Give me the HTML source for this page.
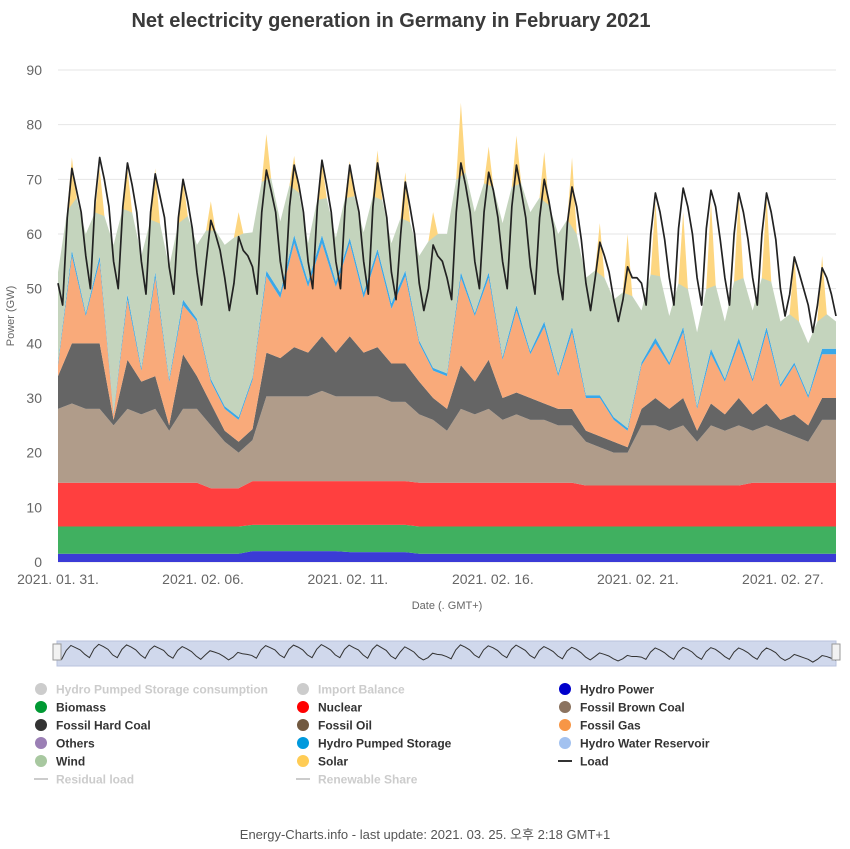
<!DOCTYPE html>
<html><head><meta charset="utf-8">
<style>
body{margin:0;background:#fff;font-family:"Liberation Sans","Noto Sans CJK KR",sans-serif;}
svg{display:block}
</style></head>
<body>
<svg id="chart" width="850" height="849" viewBox="0 0 850 849" xmlns="http://www.w3.org/2000/svg">
<text x="391" y="27" text-anchor="middle" font-size="20" font-weight="bold" fill="#3a3a3a">Net electricity generation in Germany in February 2021</text>
<g id="grid"></g>
<g id="areas"></g>
<g id="lines"></g>
<g id="axes"></g>
<text transform="translate(14,316) rotate(-90)" text-anchor="middle" font-size="11" fill="#666">Power (GW)</text>
<text x="447" y="609" text-anchor="middle" font-size="11" fill="#666">Date (. GMT+)</text>
<g id="nav"></g>
<g id="legend"></g>
<text x="425" y="839" text-anchor="middle" font-size="13" fill="#555">Energy-Charts.info - last update: 2021. 03. 25. 오후 2:18 GMT+1</text>
</svg>
<script>
// half-day samples (00h, 12h), day 0 = Feb 1 00:00
const hydro=[1.5,1.5,1.5,1.5,1.5,1.5,1.5,1.5,1.5,1.5,1.5,1.5,1.5,1.5,2,2,2,2,2,2,2,1.8,1.8,1.8,1.8,1.8,1.5,1.5,1.5,1.5,1.5,1.5,1.5,1.5,1.5,1.5,1.5,1.5,1.5,1.5,1.5,1.5,1.5,1.5,1.5,1.5,1.5,1.5,1.5,1.5,1.5,1.5,1.5,1.5,1.5,1.5,1.5];
const biomass=[5,5,5,5,5,5,5,5,5,5,5,5,5,5,4.8,4.8,4.8,4.8,4.8,4.8,4.8,5,5,5,5,5,5,5,5,5,5,5,5,5,5,5,5,5,5,5,5,5,5,5,5,5,5,5,5,5,5,5,5,5,5,5,5];
const nuclear=[8,8,8,8,8,8,8,8,8,8,8,7,7,7,8,8,8,8,8,8,8,8,8,8,8,8,8,8,8,8,8,8,8,8,8,8,8,8,7.5,7.5,7.5,7.5,7.5,7.5,7.5,7.5,7.5,7.5,7.5,7.5,8,8,8,8,8,8,8];
const brownCoal=[13.5,14.5,13.5,13.5,10.5,13.5,12.5,13.5,9.5,13.5,13.5,11.5,8.5,6.5,7.5,15.5,15.5,15.5,15.5,16.5,15.5,15.5,15.5,15.5,14.5,14.5,12.5,11.5,9.5,13.5,12.5,13.5,11.5,12.5,11.5,11.5,10.5,10.5,8,7,6,6,11,11,10,11,8,11,10,11,9.5,10.5,9.5,8.5,7.5,11.5,11.5];
const hardCoal=[6,11,12,12,1,9,6,6,1,10,6,4,2,2,2,8,7,9,8,10,8,11,8,9,7,7,6,4,4,8,6,9,4,4,4,3,3,3,2,2,2,1,3,5,4,5,2,4,3,5,3,4,2,4,3,4,4];
const gas=[2,16,5,15,1,11,2,18,8,9,10,4,4,4,9,14,11,19,12,17,12,17,10,17,10,16,7,5,6,16,12,15,7,15,8,14,6,14,6,7,4,3,8,10,8,12,4,9,6,10,6,13,6,9,5,8,8];
const pumped=[0.5,1,0.5,1,0.3,1,0.5,1,0.5,1,0.5,0.5,0.5,0.5,0.5,1,1,1.5,1,1.5,1,1,1,1,1,1,0.5,0.5,0.5,1,0.5,1,0.5,1,0.5,1,0.5,1,0.5,0.5,0.5,0.5,0.5,1,0.5,1,0.5,1,0.5,1,0.5,1,0.5,0.5,0.5,1,1];
const wind=[16.5,13,14.5,10,30.7,19,20.5,13,20.5,18,13.5,28.5,29.5,33.5,26.5,21,13,12.5,7,10.5,8,11,11,13,11,12,15.5,24.5,25.5,22,18.5,19,24.5,25,25.5,24,25.5,21,21.5,23.5,21.5,25.5,9.5,15,8.5,11,13.5,15,10.5,14,12.5,12,11.5,9.5,9.5,7,5];
// solar noon peak per day (GW)
const solarPeak=[4,6,4,6,4,4,4,4,2,3,3,5,6,4,9,4,6,7,10,8,10,10,10,12,12,12,10,10];
// load, 4-hourly samples (00,04,08,12,16,20h) per day
const load=[51,47,63,72,68,64, 56,50,66,74,70,65, 55,50,65,73,69,64, 55,49,64,71,67,63, 54,49,63,70,66,61, 53,47,55,62.5,60,57, 52,46,51,59.5,57,56,
54,49,64,71.7,68,64, 55,50,65,72.6,69,64, 55,50,65,73.5,69,64, 55,50,65,72.6,68,64, 55,49,65,73,68,63, 53,48,60,69.5,65,60, 51,46,50,58,56,55,
52,48,64,73,69,64, 55,50,64,71.3,68,63, 55,50,65,72.6,68,63, 54,49,63,70,66,61, 53,48,62,68.6,65,59, 51,46,52,58.5,56,53, 48,44,48,54,52,52,
51,47,60,67.5,64,59, 52,47,61,68.4,65,60, 52,47,61,68,65,59, 52,47,60,67.5,64,59, 52,47,60,67.5,64,59, 50,45,49,55.8,53,50, 47,42,47,53.8,52,49, 45];
const yTicks=[0,10,20,30,40,50,60,70,80,90];
const xTickDays=[0,5.22,10.43,15.65,20.87,26.09];
const xTickLabels=["2021. 01. 31.","2021. 02. 06.","2021. 02. 11.","2021. 02. 16.","2021. 02. 21.","2021. 02. 27."];

const NS="http://www.w3.org/2000/svg";
const X0=58,X1=836,DAYS=28,Y0=562,YT=70,YMAX=90;
const xs=d=>X0+(d/DAYS)*(X1-X0);
const ys=v=>Y0-(v/YMAX)*(Y0-YT);
function mk(tag,attrs,parent){const e=document.createElementNS(NS,tag);for(const k in attrs)e.setAttribute(k,attrs[k]);parent.appendChild(e);return e;}

const grid=document.getElementById('grid'),axes=document.getElementById('axes');
yTicks.forEach(v=>{
  const l=mk('line',{x1:X0,x2:X1,y1:ys(v),y2:ys(v),stroke:'#e6e6e6','stroke-width':1},grid);
  
  
  const t=mk('text',{x:42,y:ys(v)+5,'text-anchor':'end','font-size':14,fill:'#666'},axes);
  t.textContent=v;
  
  
});
xTickDays.forEach((d,i)=>{
  const t=mk('text',{x:xs(d),y:584,'text-anchor':'middle','font-size':14,fill:'#666'},axes);
  t.textContent=xTickLabels[i];
  
  
});

const series=[[hydro,'#3b3bd6','hydro-power'],[biomass,'#40b060','biomass'],[nuclear,'#ff3f3f','nuclear'],[brownCoal,'#b09c8a','fossil-brown-coal'],[hardCoal,'#656565','fossil-hard-coal'],[gas,'#f9aa7a','fossil-gas'],[pumped,'#3aa8e8','hydro-pumped-storage'],[wind,'#c4d4bd','wind']];
const N=hydro.length;const tH=i=>i*0.5;
let base=new Array(N).fill(0);
const areas=document.getElementById('areas');
series.forEach(([arr,col,name])=>{
  const top=base.map((b,i)=>b+arr[i]);
  let d='M'+xs(0)+','+ys(top[0]);
  for(let i=1;i<N;i++)d+='L'+xs(tH(i))+','+ys(top[i]);
  for(let i=N-1;i>=0;i--)d+='L'+xs(tH(i))+','+ys(base[i]);
  const p=mk('path',{d:d+'Z',fill:col},areas);
  
  
  base=top;
});
const topAt=t=>{const f=t/0.5,i=Math.min(Math.floor(f),N-2),r=f-i;return base[i]*(1-r)+base[i+1]*r;};
let sd='';
solarPeak.forEach((s,day)=>{
  const pts=[[day+0.33,0],[day+0.5,s],[day+0.67,0]];
  sd+='M'+xs(pts[0][0])+','+ys(topAt(pts[0][0]));
  pts.slice(1).forEach(([t,v])=>{sd+='L'+xs(t)+','+ys(topAt(t)+v);});
  sd+='Z';
});
const sp=mk('path',{d:sd,fill:'#fdd680'},areas);



const lines=document.getElementById('lines');
const ld=load.map((v,i)=>(i?'L':'M')+xs(i/6)+','+ys(v)).join('');
const lp=mk('path',{d:ld,fill:'none',stroke:'#222','stroke-width':1.7,'stroke-linejoin':'round'},lines);



const nav=document.getElementById('nav');
const nb=mk('rect',{x:57,y:641,width:779,height:25,fill:'#d0d8ec',stroke:'#b8c2dc'},nav);


const nx=d=>57+(d/DAYS)*779,ny=v=>666-((v-35)/45)*25;
const nd=load.map((v,i)=>(i?'L':'M')+nx(i/6)+','+ny(v)).join('');
const np=mk('path',{d:nd,fill:'none',stroke:'#333','stroke-width':1},nav);


[57,836].forEach((x,i)=>{
  const h=mk('rect',{x:x-4,y:644,width:8,height:16,fill:'#f2f2f2',stroke:'#999'},nav);
  
  
});

const legend=document.getElementById('legend');
const items=[
['Hydro Pumped Storage consumption','#ccc',0,'c'],['Import Balance','#ccc',0,'c'],['Hydro Power','#0000cc',1,'c'],
['Biomass','#009933',1,'c'],['Nuclear','#ff0000',1,'c'],['Fossil Brown Coal','#8b735f',1,'c'],
['Fossil Hard Coal','#333',1,'c'],['Fossil Oil','#725940',1,'c'],['Fossil Gas','#f79646',1,'c'],
['Others','#9b7fb5',1,'c'],['Hydro Pumped Storage','#0099dd',1,'c'],['Hydro Water Reservoir','#a3c2f0',1,'c'],
['Wind','#a8c8a0',1,'c'],['Solar','#ffcc55',1,'c'],['Load','#333',1,'l'],
['Residual load','#ccc',0,'l'],['Renewable Share','#ccc',0,'l']];
const colX=[41,303,565];
items.forEach(([label,col,on,kind],i)=>{
  const cx=colX[i%3],cy=689+Math.floor(i/3)*18;
  const g=mk('g',{},legend);
  
  
  if(kind==='c')mk('circle',{cx:cx,cy:cy,r:6,fill:col},g);
  else mk('line',{x1:cx-7,x2:cx+7,y1:cy,y2:cy,stroke:col,'stroke-width':2},g);
  const t=mk('text',{x:cx+15,y:cy+4.5,'font-size':12,'font-weight':'bold',fill:on?'#333':'#ccc'},g);
  t.textContent=label;
});
</script>
</body></html>
